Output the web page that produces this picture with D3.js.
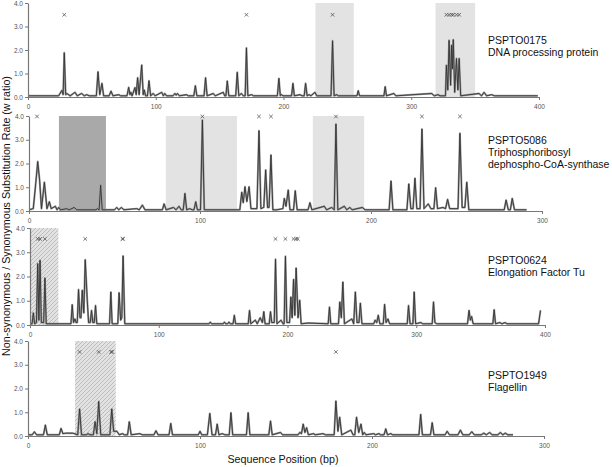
<!DOCTYPE html>
<html><head><meta charset="utf-8">
<script src="https://cdn.jsdelivr.net/npm/d3@7"></script>
<style>body{margin:0;background:#fff}svg{display:block}</style>
</head><body>
<svg id="c" width="612" height="467"></svg>
<script>
// ---------- DATA ----------
const xTicks400 = [0,100,200,300,400];
const xTicks300 = [0,100,200,300];
const yTicks = [0,1,2,3,4];

const p1Pos = [0,24,26.5,27.5,28.4,29.5,30.5,33,36.8,38.5,42,44,46,48,53.5,54.8,56.2,57.9,59.2,63.5,65,66.5,71,72.5,77.5,78.8,79.8,80.5,81.5,83.7,84.7,85.8,87,89,90.2,91,92,93.5,94.7,96,98,99.5,104.6,106,107,108.5,113.5,115,116,117,118.5,124,125.5,129.8,131,132.2,137.8,139,140.2,145,146.5,152.8,154,154.9,156,157.2,162.6,163.8,165,167,168.5,170,171,172.1,175,176.5,195.2,196.4,197.5,198.5,199.5,206.3,207.4,208.5,213,214.5,216.2,217.3,218.5,220,221.5,224.6,226,237.2,238.4,239.6,241.5,243,257.5,258.5,259.5,278.6,279.6,280.6,286.4,288,316,318,321,322.5,326.8,327.5,328.6,329.6,330.8,331.6,332.2,332.9,334,335.4,336.5,337.5,338.7,353,355,357,359,363,365,399];
const p1W   = [0.05,0.05,0.28,0.1,1.88,0.1,0.15,0.05,0.2,0.05,0.15,0.05,0.1,0.05,0.05,1.07,0.1,0.58,0.05,0.05,0.25,0.05,0.1,0.05,0.05,0.41,0.1,0.2,0.05,0.4,0.1,0.82,0.1,1.36,0.1,0.3,0.05,0.05,0.69,0.05,0.15,0.05,0.2,0.05,0.15,0.05,0.05,0.15,0.08,0.15,0.05,0.1,0.05,0.05,0.48,0.05,0.05,0.82,0.05,0.15,0.05,0.2,0.05,0.05,0.68,0.05,0.05,1.05,0.05,0.15,0.05,0.05,2.09,0.05,0.1,0.05,0.05,0.79,0.05,0.1,0.05,0.05,0.58,0.05,0.1,0.05,0.05,0.58,0.05,0.1,0.05,0.2,0.05,0.05,2.39,0.05,0.1,0.05,0.05,0.27,0.05,0.05,0.44,0.05,0.15,0.05,0.15,0.05,0.1,0.05,0.05,1.35,0.3,2.41,0.5,2.2,1.2,2.44,0.2,1.64,0.3,1.64,0.05,0.15,0.05,0.2,0.05,0.1,0.05,0.05];
const p1Marks = [28.4,171,238.4,327.5,329.6,331.6,332.9,335.4,337.5];

const p2Pos = [0,2.5,4,5.1,6.2,7.3,9,10.5,11.9,13,15.4,16.4,17.4,18.5,22,23.5,26.4,28,39.2,40,41,41.9,42.8,50,51.3,52.5,54,55.5,63,64.5,66.3,67.8,78,79,80.2,84.5,86,87.7,89,90.2,91.2,92.2,94,95.5,96.5,97.5,98.5,100.3,101.4,102.5,123.3,124.4,125.3,126.3,127.4,128.7,129.8,133.3,134.5,135.6,137.3,138.4,139.5,140.4,141.5,142.6,145,148.5,149.3,150.3,151.6,152.6,154.7,155.7,156.8,163.2,164.3,165.4,172.7,174,177,178.5,179.5,180.6,184.4,185.8,187.6,189,195,196.5,210.6,211.7,212.8,221,222.1,223.3,224.6,225.7,226.8,228.7,229.8,231,233.5,235,236.8,237.8,238.9,242,243.6,244.8,246,250.9,252,253.3,254.9,256,257.2,277.9,279,280.3,281.5,282.6,283.9,291];
const p2W   = [0.05,0.1,1.2,2.08,1.3,0.1,1.21,0.1,0.39,0.1,0.2,0.05,0.15,0.05,0.1,0.05,0.15,0.05,0.05,0.1,0.05,1.09,0.05,0.05,0.15,0.05,0.15,0.05,0.1,0.05,0.25,0.05,0.05,0.3,0.05,0.15,0.05,0.2,0.05,0.05,0.74,0.05,0.1,0.05,0.05,0.39,0.05,0.05,3.83,0.05,0.05,0.79,0.35,1.02,0.4,1.02,0.1,0.1,3.38,0.1,0.15,1.73,0.15,0.15,2.36,0.05,0.05,0.1,0.53,0.2,0.88,0.05,0.05,0.85,0.05,0.05,0.35,0.05,0.2,0.05,0.15,0.05,3.66,0.05,0.2,0.05,0.15,0.05,0.15,0.05,0.05,1.26,0.05,0.05,1.14,0.1,0.1,1.38,0.1,0.1,3.45,0.1,0.3,0.1,0.1,0.98,0.1,0.15,0.1,0.49,0.1,0.1,3.27,0.15,0.15,1.21,0.05,0.05,0.46,0.05,0.05,0.53,0.05,0.05];
const p2Marks = [4.7,101.4,134.5,141.5,179.5,229.8,252];

const p3Pos = [0,1.6,2.6,3.6,5,6,6.9,7.8,8.8,10.6,11.6,12.6,31.8,32.8,33.8,34.9,35.8,36.7,37.7,38.8,39.6,40.6,41.8,42.9,44.5,45.5,46.8,47.8,48.8,49.9,50.9,51.9,61.8,62.8,63.8,68.2,69.2,70.4,71.3,72.3,73.6,139,140,141,150,151,152,153.5,154.5,155.5,157.7,158.7,159.7,169.5,170.5,171.5,175,176.5,178.8,180.5,181.6,182.6,185.8,186.8,187.8,189.7,190.7,191.8,195,196.5,197.4,198.4,199.5,201.6,202.6,203.6,204.7,205.7,206.7,208.2,209.5,210.6,216,231.6,232.6,233.6,239.6,240.6,241.8,243,244.2,250,251.4,252.7,254,255.5,256.6,257.8,267,268,269.3,270.5,271.7,274.4,275.4,276.6,278,279.3,293,294,295.2,297.4,298.4,299.5,303.6,305,312.4,313.4,314.5,316,339.8,341,342,343,344.2,359.5,360.5,361.6,365,366.5,369,370.5,395,396.5];
const p3W   = [0.05,0.05,0.5,0.05,0.1,2.53,0.2,2.67,0.1,0.1,1.94,0.05,0.05,0.84,0.1,0.25,0.1,0.1,1.46,0.3,0.3,1.43,0.5,2.69,1.0,0.1,0.1,0.6,0.1,0.1,0.8,0.05,0.05,1.36,0.05,0.05,1.33,0.2,0.3,2.85,0.05,0.05,0.12,0.05,0.05,0.12,0.05,0.05,0.12,0.05,0.05,0.4,0.05,0.05,0.6,0.05,0.2,0.05,0.3,0.1,0.55,0.05,0.05,0.55,0.1,0.1,2.71,0.05,0.2,0.05,0.05,2.83,0.1,0.1,1.15,0.3,1.88,0.4,2.35,0.3,1.02,0.05,0.08,0.05,0.74,0.05,0.05,0.95,0.3,1.77,0.05,0.25,0.05,1.36,0.1,0.1,0.9,0.05,0.05,0.2,0.1,0.4,0.05,0.05,0.85,0.1,0.25,0.05,0.05,0.8,0.05,0.05,1.36,0.05,0.1,0.05,0.05,0.95,0.1,0.05,0.05,0.6,0.2,0.35,0.05,0.05,0.63,0.05,0.1,0.05,0.1,0.05,0.05,0.6];
const p3Marks = [6,7.8,11.6,42.9,71.8,72.3,190.7,198.4,204.7,206.7,208];

const p4Pos = [0,2.5,3.7,5,9,10.1,11.2,18.2,19.2,20.3,22,26,28.9,30,31.1,34,35,36,38,39,40,41.1,42.3,47.6,48.7,49.8,51.7,53,55,56,57.9,58.9,60,65,66.5,73.2,74.4,75.6,82,83,84,99,100,101,104.3,105.7,107,109,110,111,113,114.5,117,118,119,127,128,129,140,141,142,146.8,148,157,158,159,160,161,162,163,166,167,171.5,173,178,179,180.2,181.2,182.4,187.7,189,190,191,192.3,193.6,194.6,195.5,196.5,201,202,204,205,207,208,209,211,212,219,222,227.3,228.3,229.3,234,235,236,242.5,243.7,245,250,251.4,252.8,256.5,258,259.5,263.5,265,266.5,268.4,269.8,273.2,274.6,276,277.5,279,282];
const p4W   = [0.05,0.05,0.18,0.05,0.05,0.46,0.05,0.05,0.32,0.1,0.12,0.12,0.05,1.14,0.05,0.05,0.1,0.05,0.05,0.6,0.1,1.45,0.05,0.05,1.14,0.2,0.2,0.05,0.1,0.05,0.05,0.6,0.05,0.1,0.05,0.05,0.22,0.05,0.05,0.53,0.05,0.05,0.2,0.05,0.05,0.95,0.05,0.05,0.5,0.05,0.1,0.05,0.05,0.98,0.05,0.05,0.98,0.05,0.05,0.63,0.05,0.15,0.05,0.05,0.15,0.1,0.5,0.15,0.35,0.05,0.1,0.05,0.1,0.05,0.05,1.47,0.2,0.79,0.05,0.25,0.05,0.05,0.79,0.15,0.5,0.05,0.15,0.05,0.1,0.05,0.1,0.05,0.05,0.3,0.05,0.1,0.05,0.05,0.05,0.05,0.91,0.05,0.05,0.56,0.05,0.05,0.2,0.05,0.05,0.25,0.05,0.05,0.18,0.05,0.05,0.12,0.05,0.15,0.05,0.05,0.15,0.05,0.12,0.05,0.05];
const p4Marks = [30,41.1,48.3,49,179];

// highlighted regions (sequence positions)
const p1Light = [[225,255],[319,350]];
const p2Dark  = [[17.5,45]];
const p2Light = [[80,121.6],[166,196]];
const p3Hatch = [[0,22]];
const p4Hatch = [[27.3,51]];

const p1Label = ["PSPTO0175","DNA processing protein"];
const p2Label = ["PSPTO5086","Triphosphoribosyl","dephospho-CoA-synthase"];
const p3Label = ["PSPTO0624","Elongation Factor Tu"];
const p4Label = ["PSPTO1949","Flagellin"];

const yTitle = "Non-synonymous / Synonymous Substitution Rate (w ratio)";
const xTitle = "Sequence Position (bp)";

// ---------- LAYOUT ----------
const panels = [
  {pos:p1Pos,w:p1W,marks:p1Marks,markW:3.5,xMax:400,ticks:xTicks400,xr:[28,539],yr:[97,3],light:p1Light,dark:[],hatch:[],label:p1Label,ly:43.5},
  {pos:p2Pos,w:p2W,marks:p2Marks,markW:3.98,xMax:300,ticks:xTicks300,xr:[29,542],yr:[211,116],light:p2Light,dark:p2Dark,hatch:[],label:p2Label,ly:144},
  {pos:p3Pos,w:p3W,marks:p3Marks,markW:3.55,xMax:400,ticks:xTicks400,xr:[30,545],yr:[325,228],light:[],dark:[],hatch:p3Hatch,label:p3Label,ly:263.7},
  {pos:p4Pos,w:p4W,marks:p4Marks,markW:3.54,xMax:300,ticks:xTicks300,xr:[28,544],yr:[436,341],light:[],dark:[],hatch:p4Hatch,label:p4Label,ly:378.7}
];

const svg = d3.select("#c");
const defs = svg.append("defs");
const pat = defs.append("pattern").attr("id","hatch").attr("patternUnits","userSpaceOnUse")
  .attr("width",4).attr("height",4);
pat.append("rect").attr("width",4).attr("height",4).attr("fill","#e2e2e2");
pat.append("path").attr("d","M-1,1 l2,-2 M0,4 l4,-4 M3,5 l2,-2").attr("stroke","#b4b4b4").attr("stroke-width",0.8);

const FONT = "Liberation Sans, Arial, Helvetica, sans-serif";

panels.forEach(p => {
  const x = d3.scaleLinear().domain([0,p.xMax]).range(p.xr);
  const y = d3.scaleLinear().domain([0,4]).range(p.yr);
  const g = svg.append("g");
  const region = (arr, fill) => g.selectAll(null).data(arr).enter().append("rect")
    .attr("x",d=>x(d[0])).attr("width",d=>x(d[1])-x(d[0]))
    .attr("y",y(4)).attr("height",y(0)-y(4)).attr("fill",fill);
  region(p.light,"#e3e3e3");
  region(p.dark,"#a9a9a9");
  region(p.hatch,"url(#hatch)");

  const pts = p.pos.map((v,i)=>[v,p.w[i]]);
  const lineGen = d3.line().x(d=>x(d[0])).y(d=>y(d[1]));
  g.append("path").datum(pts).attr("d", lineGen)
    .attr("fill","none").attr("stroke","#9a9a9a").attr("stroke-width",2).attr("stroke-linejoin","round");
  g.append("path").datum(pts).attr("d", lineGen)
    .attr("fill","none").attr("stroke","#333").attr("stroke-width",0.9).attr("stroke-linejoin","round");

  const ax = g.append("g").attr("transform",`translate(0,${p.yr[0]})`)
    .call(d3.axisBottom(x).tickValues(p.ticks).tickSize(3).tickPadding(4).tickSizeOuter(0));
  const ay = g.append("g").attr("transform",`translate(${p.xr[0]},0)`)
    .call(d3.axisLeft(y).tickValues(yTicks).tickSize(3).tickPadding(2).tickSizeOuter(0));
  [ax,ay].forEach(a=>{
    a.select(".domain").attr("stroke","#777").attr("stroke-width",1.2);
    a.selectAll(".tick line").attr("stroke","#777");
    a.selectAll("text").attr("font-family",FONT).attr("font-size",6.5).attr("fill","#555");
  });

  g.selectAll(null).data(p.marks).enter().append("path")
    .attr("transform",d=>`translate(${x(d)},${y(p.markW)})`)
    .attr("d",d3.symbol(d3.symbolX,10)())
    .attr("fill","none").attr("stroke","#555").attr("stroke-width",0.8);

  g.selectAll(null).data(p.label).enter().append("text")
    .attr("x",488).attr("y",(d,i)=>p.ly+i*12)
    .attr("font-family",FONT).attr("font-size",10.5).attr("fill","#111").text(d=>d);
});

svg.append("text").attr("transform","translate(10,216) rotate(-90)").attr("text-anchor","middle")
  .attr("font-family",FONT).attr("font-size",10.7).attr("fill","#111").text(yTitle);
svg.append("text").attr("x",283).attr("y",463).attr("text-anchor","middle")
  .attr("font-family",FONT).attr("font-size",10.7).attr("fill","#111").text(xTitle);
</script>
</body></html>
